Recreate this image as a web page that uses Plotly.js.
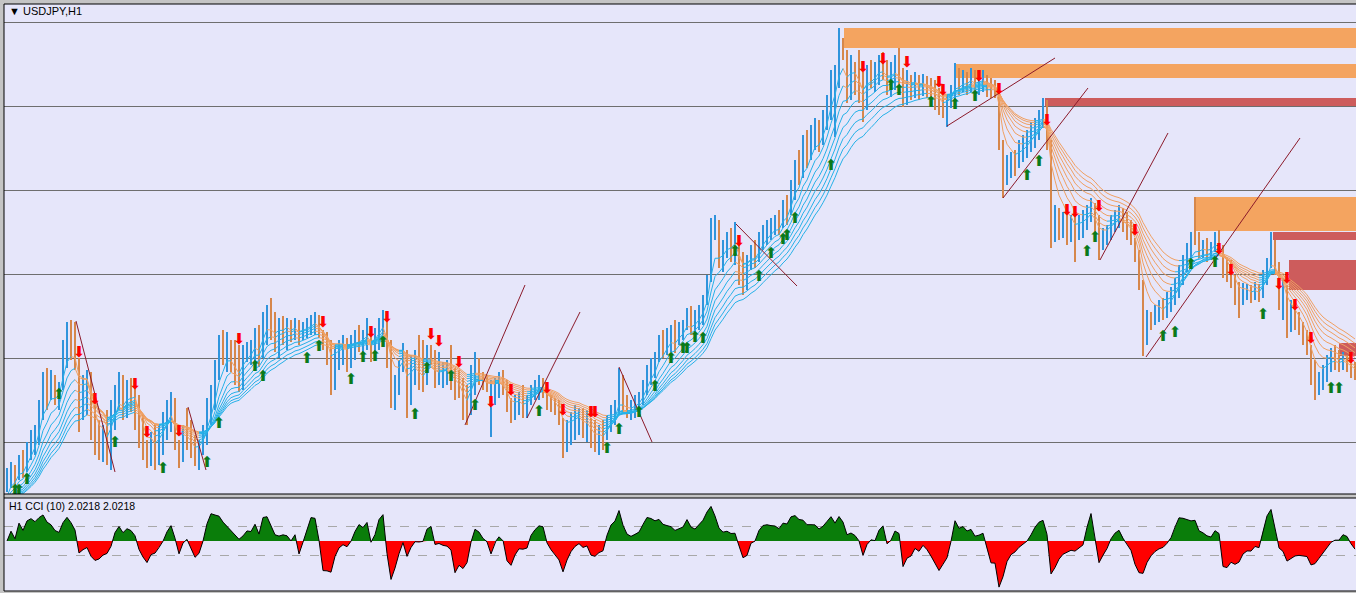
<!DOCTYPE html>
<html><head><meta charset="utf-8">
<script src="https://cdn.plot.ly/plotly-3.0.1.min.js"></script>
<style>html,body{margin:0;padding:0;background:#c4c4c4;}#chart{width:1356px;height:593px;}</style>
</head><body><div id="chart"></div>
<script>
// ---------------- data (USDJPY, H1) ----------------
const chartLabel = '\u25BC USDJPY,H1';
const cciLabel = 'H1 CCI (10) 2.0218 2.0218';
const firstOpen = 107.15;
const high = [
107.32,107.38,107.35,107.45,107.50,107.58,107.70,107.75,108.00,108.28,
108.32,108.30,108.25,108.18,108.60,108.78,108.80,108.78,108.42,108.25,
108.30,108.28,107.95,107.80,107.75,107.90,108.00,108.15,108.28,108.25,
108.20,108.22,108.15,108.05,107.85,107.60,107.68,107.75,107.75,107.88,
108.00,108.08,108.02,107.60,107.75,107.92,107.80,107.65,107.60,107.75,
108.02,108.15,108.40,108.65,108.70,108.68,108.60,108.60,108.55,108.55,
108.58,108.60,108.72,108.75,108.88,108.95,109.02,108.88,108.82,108.84,
108.82,108.80,108.82,108.80,108.78,108.82,108.85,108.88,108.85,108.70,
108.68,108.60,108.55,108.60,108.65,108.62,108.65,108.70,108.75,108.70,
108.82,108.72,108.72,108.82,108.90,108.85,108.60,108.25,108.40,108.57,
108.50,108.45,108.50,108.65,108.60,108.55,108.55,108.50,108.48,108.38,
108.40,108.55,108.32,108.30,108.22,108.15,108.35,108.48,108.42,108.28,
108.25,108.20,108.22,108.28,108.30,108.20,108.02,108.05,108.08,108.15,
108.05,108.15,108.20,108.25,108.22,108.15,108.05,108.02,108.00,107.82,
107.80,107.88,107.95,107.92,107.92,107.90,107.82,107.80,107.75,107.80,
107.85,107.95,108.00,108.32,108.25,108.05,108.00,108.05,108.08,108.20,
108.35,108.42,108.48,108.65,108.70,108.72,108.75,108.80,108.78,108.80,
108.92,108.94,108.90,108.95,109.05,109.25,109.82,109.85,109.80,109.60,
109.68,109.72,109.78,109.65,109.48,109.45,109.55,109.60,109.68,109.75,
109.80,109.82,109.85,109.90,110.00,110.05,110.20,110.40,110.50,110.65,
110.70,110.75,110.82,110.80,110.90,111.05,111.30,111.35,111.72,111.62,
111.50,111.45,111.38,111.50,111.28,111.35,111.40,111.38,111.45,111.48,
111.40,111.38,111.45,111.52,111.32,111.30,111.25,111.28,111.25,111.26,
111.24,111.22,111.20,111.12,111.08,111.05,111.15,111.37,111.32,111.30,
111.28,111.32,111.30,111.28,111.30,111.25,111.22,111.20,111.12,110.60,
110.45,110.48,110.50,110.60,110.65,110.70,110.78,110.82,110.90,111.02,
111.00,110.60,109.95,109.92,109.88,109.90,109.85,109.88,109.85,109.90,
109.95,110.02,109.97,109.85,109.72,109.75,109.85,109.90,109.95,109.92,
109.88,109.80,109.62,109.50,109.20,108.90,108.88,108.95,109.00,109.02,
109.08,109.13,109.22,109.35,109.45,109.57,109.68,110.03,109.68,109.60,
109.62,109.58,109.68,109.70,109.55,109.42,109.40,109.25,109.18,109.17,
109.16,109.15,109.18,109.16,109.30,109.42,109.68,109.60,109.38,109.22,
109.15,109.00,108.95,108.88,108.78,108.70,108.55,108.40,108.28,108.35,
108.45,108.52,108.55,108.50,108.48,108.45,108.40,108.38];
const low = [
107.08,107.12,107.15,107.20,107.22,107.28,107.40,107.45,107.55,107.80,
107.90,108.00,107.95,107.90,108.10,108.32,108.40,108.30,107.68,107.80,
107.85,107.60,107.45,107.40,107.38,107.35,107.30,107.70,107.90,107.80,
107.82,107.88,107.70,107.52,107.40,107.32,107.34,107.30,107.35,107.45,
107.60,107.68,107.50,107.32,107.38,107.50,107.42,107.34,107.30,107.45,
107.55,107.75,107.90,108.20,108.35,108.28,108.28,108.15,108.08,108.10,
108.38,108.35,108.38,108.33,108.42,108.55,108.60,108.48,108.42,108.55,
108.50,108.58,108.60,108.55,108.60,108.62,108.65,108.65,108.62,108.50,
108.35,108.05,108.10,108.30,108.35,108.28,108.32,108.40,108.48,108.42,
108.50,108.38,108.40,108.50,108.65,108.32,107.92,107.90,108.05,108.28,
107.82,107.95,108.15,108.10,108.08,108.15,108.35,108.12,108.15,108.12,
108.15,108.10,108.00,108.02,107.80,107.75,107.85,108.05,108.15,108.10,
108.08,107.63,107.95,108.02,108.05,107.88,107.77,107.80,107.85,107.82,
107.82,107.95,108.00,108.00,108.02,107.90,107.88,107.85,107.75,107.42,
107.48,107.55,107.60,107.65,107.62,107.58,107.52,107.48,107.45,107.50,
107.60,107.68,107.75,107.85,107.88,107.82,107.80,107.82,107.88,107.95,
108.05,108.15,108.22,108.38,108.42,108.45,108.48,108.47,108.55,108.60,
108.70,108.65,108.62,108.70,108.75,108.95,109.18,109.60,109.32,109.28,
109.42,109.38,109.35,109.15,109.05,109.10,109.30,109.32,109.38,109.50,
109.55,109.60,109.65,109.65,109.72,109.75,109.85,110.00,110.15,110.22,
110.32,110.40,110.50,110.48,110.55,110.70,110.80,110.63,111.12,111.40,
110.97,111.00,111.05,110.97,110.78,110.90,111.12,111.08,111.15,111.20,
111.05,111.03,111.10,111.13,110.93,110.95,111.00,111.02,111.00,111.04,
111.02,110.95,110.90,110.85,110.82,110.73,110.92,111.00,111.05,111.08,
111.05,111.08,111.04,111.05,111.08,111.03,111.02,111.02,110.50,110.02,
110.15,110.22,110.24,110.32,110.38,110.42,110.48,110.52,110.60,110.72,
110.50,109.52,109.58,109.60,109.62,109.55,109.58,109.38,109.60,109.62,
109.70,109.78,109.63,109.40,109.50,109.55,109.60,109.68,109.72,109.68,
109.60,109.55,109.38,109.10,108.44,108.55,108.70,108.75,108.78,108.80,
108.82,108.88,108.95,109.02,109.15,109.28,109.38,109.55,109.42,109.42,
109.38,109.40,109.48,109.50,109.22,109.18,109.12,108.95,108.82,108.95,
109.00,108.97,109.00,108.98,109.02,109.15,109.32,109.25,108.90,108.80,
108.62,108.68,108.70,108.65,108.55,108.45,108.15,108.00,108.05,108.10,
108.18,108.28,108.30,108.28,108.30,108.28,108.22,108.20];
const close = [
107.20,107.34,107.25,107.42,107.30,107.52,107.60,107.70,107.95,108.22,
108.05,108.20,108.02,108.12,108.55,108.70,108.55,108.40,107.90,108.15,
108.20,107.70,107.55,107.50,107.65,107.45,107.90,108.08,108.20,107.90,
108.12,108.05,108.05,107.60,107.50,107.38,107.60,107.45,107.70,107.80,
107.95,108.00,107.55,107.45,107.68,107.60,107.50,107.40,107.55,107.70,
107.95,108.08,108.30,108.55,108.50,108.60,108.40,108.20,108.15,108.50,
108.52,108.55,108.65,108.45,108.82,108.90,108.70,108.60,108.75,108.70,
108.78,108.65,108.75,108.62,108.72,108.75,108.78,108.82,108.68,108.55,
108.42,108.15,108.50,108.55,108.55,108.50,108.58,108.64,108.60,108.65,
108.70,108.48,108.65,108.78,108.85,108.40,108.05,108.15,108.30,108.50,
107.95,108.35,108.42,108.20,108.15,108.42,108.40,108.22,108.25,108.30,
108.32,108.18,108.10,108.08,107.88,107.85,108.28,108.40,108.25,108.20,
108.10,108.15,108.15,108.20,108.10,107.95,107.82,107.95,108.00,107.90,
108.00,108.10,108.15,108.18,108.15,107.95,107.95,107.90,107.80,107.60,
107.70,107.80,107.85,107.88,107.70,107.75,107.60,107.55,107.65,107.60,
107.80,107.90,107.95,108.20,107.95,107.88,107.90,107.98,108.02,108.15,
108.30,108.38,108.42,108.60,108.55,108.65,108.70,108.55,108.72,108.75,
108.88,108.72,108.80,108.90,109.00,109.20,109.75,109.78,109.42,109.50,
109.62,109.55,109.65,109.25,109.15,109.38,109.50,109.42,109.60,109.70,
109.72,109.75,109.78,109.72,109.95,109.90,110.15,110.32,110.25,110.55,
110.42,110.65,110.72,110.60,110.82,111.00,111.25,111.30,111.60,111.48,
111.05,111.35,111.28,111.05,110.90,111.28,111.22,111.30,111.38,111.30,
111.15,111.25,111.32,111.20,111.05,111.15,111.10,111.18,111.12,111.16,
111.10,111.05,111.00,110.92,110.88,111.00,111.08,111.30,111.15,111.22,
111.18,111.25,111.12,111.20,111.22,111.15,111.12,111.08,110.60,110.15,
110.30,110.40,110.35,110.52,110.55,110.62,110.70,110.75,110.85,110.95,
110.60,109.65,109.85,109.75,109.80,109.70,109.75,109.60,109.78,109.82,
109.88,109.95,109.72,109.55,109.65,109.70,109.80,109.85,109.88,109.75,
109.70,109.62,109.45,109.18,108.70,108.82,108.80,108.88,108.90,108.85,
109.02,109.08,109.18,109.30,109.42,109.50,109.62,109.60,109.50,109.55,
109.48,109.52,109.62,109.55,109.30,109.25,109.18,109.02,108.95,109.08,
109.10,109.02,109.12,109.05,109.25,109.38,109.60,109.32,109.00,109.10,
108.75,108.82,108.78,108.72,108.62,108.50,108.22,108.15,108.20,108.28,
108.40,108.45,108.40,108.35,108.42,108.34,108.28,108.25];

const gridPrices = [111.78, 110.94, 110.10, 109.26, 108.42, 107.58];
const ribbonPeriods = [5, 8, 11, 14, 17, 20, 23, 26];
const ribbonSeed = 106.95;
const cciPeriod = 10;
const cciLevels = [100, -100];

const buyBars = [2,3,5,13,27,39,50,53,62,64,75,78,86,89,92,94,102,105,111,117,133,150,153,158,162,166,169,170,172,174,182,188,191,194,195,197,206,221,223,231,237,242,255,258,270,272,289,292,296,302,314,331,333];
const buyPrices = [107.09,107.09,107.20,108.05,107.57,107.31,107.37,107.76,108.33,108.23,108.41,108.53,108.20,108.42,108.43,108.57,107.85,108.31,108.23,107.94,107.88,107.51,107.70,107.87,108.13,108.41,108.51,108.51,108.62,108.61,109.48,109.23,109.46,109.60,109.64,109.81,110.34,111.14,111.09,110.97,110.95,111.03,110.24,110.38,109.48,109.62,108.63,108.67,109.35,109.37,108.85,108.11,108.11];
const sellBars = [18,22,32,35,43,58,79,91,95,106,108,113,121,126,135,139,146,147,183,214,219,225,233,234,243,248,260,265,267,273,282,303,306,318,320,322,326,336];
const sellPrices = [108.47,108.00,108.15,107.67,107.68,108.60,108.77,108.67,108.82,108.65,108.58,108.37,107.97,108.09,108.11,107.89,107.87,107.87,109.58,111.32,111.40,111.37,111.17,111.09,111.23,111.10,110.79,109.89,109.87,109.93,109.69,109.50,109.29,109.15,109.21,108.94,108.61,108.41];

const trendBar0 = [17.25, 45.25, 114.5, 130, 153, 182.25, 235, 249, 273.25, 284.75];
const trendPrice0 = [108.79, 107.93, 107.75, 107.82, 108.33, 109.76, 110.74, 110.02, 109.40, 108.43];
const trendBar1 = [27, 49.75, 129.5, 143.25, 161.25, 197.5, 262, 270.25, 290.25, 323.25];
const trendPrice1 = [107.28, 107.30, 109.15, 108.88, 107.58, 109.14, 111.42, 111.12, 110.67, 110.62];

const zoneBar = [209.25, 237.25, 259.5, 296.75, 316.5, 320.5, 333];
const zoneTop = [111.72, 111.36, 111.02, 110.03, 109.68, 109.40, 108.57];
const zoneBottom = [111.52, 111.22, 110.94, 109.69, 109.60, 109.10, 108.44];
const zoneKind = ['fresh', 'fresh', 'tested', 'fresh', 'tested', 'tested', 'tested'];

// ---------------- derived ----------------
const idx = close.map((_, k) => k);
const open = close.map((_, k) => k === 0 ? firstOpen : close[k - 1]);
const nBars = close.length;

function ema(src, n, seed) { const a = 2 / (n + 1); let v = seed; return src.map(c => (v = v + a * (c - v))); }
const upX = [], upY = [], dnX = [], dnY = [];
ribbonPeriods.forEach(n => {
  const e = ema(close, n, ribbonSeed);
  for (let k = 1; k < e.length; k++) {
    if (e[k] >= e[k - 1]) { upX.push(k - 1, k, null); upY.push(e[k - 1], e[k], null); }
    else { dnX.push(k - 1, k, null); dnY.push(e[k - 1], e[k], null); }
  }
});

const tp = high.map((h, k) => (h + low[k] + close[k]) / 3);
const cci = tp.map((v, k) => {
  const w = tp.slice(Math.max(0, k - cciPeriod + 1), k + 1);
  const m = w.reduce((a, b) => a + b, 0) / w.length;
  const md = w.reduce((a, b) => a + Math.abs(b - m), 0) / w.length;
  return md > 0 ? (v - m) / (0.015 * md) : 0;
});
const cx = [], cy = [];
cci.forEach((v, k) => {
  if (k > 0) { const p = cci[k - 1]; if ((p > 0 && v < 0) || (p < 0 && v > 0)) { cx.push(k - 1 + p / (p - v)); cy.push(0); } }
  cx.push(k); cy.push(v);
});
const cciPos = cy.map(v => Math.max(v, 0));
const cciNeg = cy.map(v => Math.min(v, 0));

const tlX = [], tlY = [];
trendBar0.forEach((b, k) => { tlX.push(b, trendBar1[k], null); tlY.push(trendPrice0[k], trendPrice1[k], null); });

// ---------------- figure ----------------
const mainDom = [97 / 587, 1];
const cciDom = [0, 93 / 587];
const traces = [
  { type: 'ohlc', x: idx, open: open, high: high, low: low, close: close, xaxis: 'x', yaxis: 'y',
    increasing: { line: { color: '#2f94dc', width: 2 } }, decreasing: { line: { color: '#d6874b', width: 2 } },
    tickwidth: 0, hoverinfo: 'skip', showlegend: false },
  { type: 'scatter', mode: 'lines', x: dnX, y: dnY, xaxis: 'x', yaxis: 'y', line: { color: '#f0a062', width: 1 }, hoverinfo: 'skip', showlegend: false },
  { type: 'scatter', mode: 'lines', x: upX, y: upY, xaxis: 'x', yaxis: 'y', line: { color: '#25b1e8', width: 1 }, hoverinfo: 'skip', showlegend: false },
  { type: 'scatter', mode: 'lines', x: tlX, y: tlY, xaxis: 'x', yaxis: 'y', line: { color: '#8b1a2a', width: 1 }, hoverinfo: 'skip', showlegend: false },
  { type: 'scatter', mode: 'text', x: sellBars, y: sellPrices, text: sellBars.map(() => '\u2B07'), textposition: 'middle center',
    textfont: { family: 'DejaVu Sans', size: 15, color: '#ff0000' }, xaxis: 'x', yaxis: 'y', hoverinfo: 'skip', showlegend: false },
  { type: 'scatter', mode: 'text', x: buyBars, y: buyPrices, text: buyBars.map(() => '\u2B06'), textposition: 'middle center',
    textfont: { family: 'DejaVu Sans', size: 15, color: '#0b7a1a' }, xaxis: 'x', yaxis: 'y', hoverinfo: 'skip', showlegend: false },
  { type: 'scatter', mode: 'lines', x: cx, y: cciPos, fill: 'tozeroy', fillcolor: '#0a7d0a', line: { width: 0, color: 'rgba(0,0,0,0)' }, xaxis: 'x2', yaxis: 'y2', hoverinfo: 'skip', showlegend: false },
  { type: 'scatter', mode: 'lines', x: cx, y: cciNeg, fill: 'tozeroy', fillcolor: '#ff0000', line: { width: 0, color: 'rgba(0,0,0,0)' }, xaxis: 'x2', yaxis: 'y2', hoverinfo: 'skip', showlegend: false },
  { type: 'scatter', mode: 'lines', x: cx, y: cy, line: { color: '#000000', width: 1 }, xaxis: 'x2', yaxis: 'y2', hoverinfo: 'skip', showlegend: false }
];

const zoneColor = { fresh: '#f4a460', tested: '#cd5c5c' };
const shapes = zoneBar.map((b, k) => ({ type: 'rect', xref: 'x', yref: 'y', x0: b, x1: nBars + 5, y0: zoneBottom[k], y1: zoneTop[k],
  fillcolor: zoneColor[zoneKind[k]], line: { width: 0 }, layer: 'between' }));
const frame = (x0, y0, x1, y1) => ({ type: 'line', xref: 'paper', yref: 'paper', x0, y0, x1, y1, line: { color: '#000', width: 1 } });
shapes.push(frame(0, 1, 1, 1), frame(0, mainDom[0], 1, mainDom[0]), frame(0, cciDom[1], 1, cciDom[1]), frame(0, 0, 1, 0), frame(0, 0, 0, 1));

const axisX = { range: [-0.75, nBars - 0.75], showgrid: false, showticklabels: false, zeroline: false, ticks: '', showline: false };
const layout = {
  width: 1356, height: 593,
  margin: { l: 4, r: 0, t: 4, b: 2 },
  paper_bgcolor: '#c4c4c4', plot_bgcolor: '#e6e6fa',
  showlegend: false,
  xaxis: Object.assign({}, axisX, { anchor: 'y', rangeslider: { visible: false } }),
  xaxis2: Object.assign({}, axisX, { anchor: 'y2', matches: 'x' }),
  yaxis: { domain: mainDom, range: [107.06, 111.96], tickvals: gridPrices, showticklabels: false, ticks: '',
    showgrid: true, gridcolor: '#6e6e6e', gridwidth: 1, zeroline: false },
  yaxis2: { domain: cciDom, range: [-340, 292.5], tickvals: cciLevels, showticklabels: false, ticks: '',
    showgrid: true, gridcolor: '#a8a8a8', griddash: 'dash', gridwidth: 1, zeroline: false },
  shapes: shapes,
  annotations: [
    { xref: 'paper', yref: 'paper', x: 3 / 1352, y: 580 / 587, xanchor: 'left', yanchor: 'middle', showarrow: false,
      text: chartLabel, font: { family: 'Liberation Sans', size: 11, color: '#000' } },
    { xref: 'paper', yref: 'paper', x: 3 / 1352, y: 85 / 587, xanchor: 'left', yanchor: 'middle', showarrow: false,
      text: cciLabel, font: { family: 'Liberation Sans', size: 10.5, color: '#000' } }
  ]
};
Plotly.newPlot('chart', traces, layout, { staticPlot: true, displayModeBar: false });
</script>
</body></html>
